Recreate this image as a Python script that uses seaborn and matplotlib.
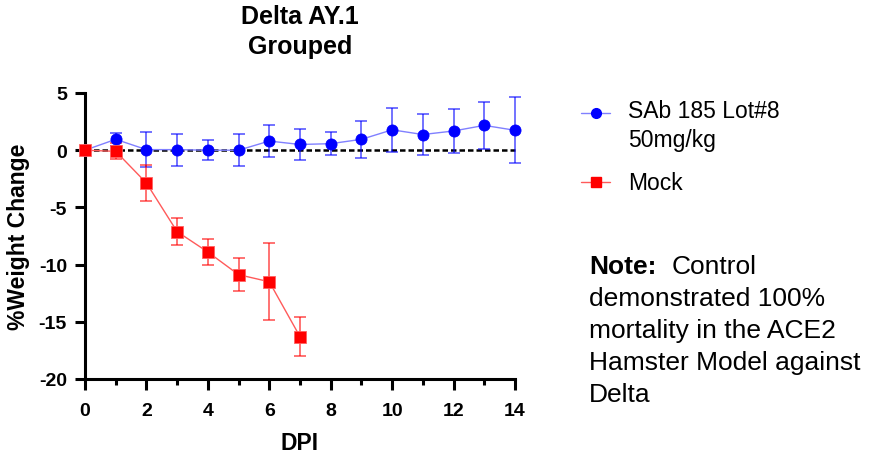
import numpy as np
import pandas as pd
import matplotlib
matplotlib.use("Agg")
import matplotlib.pyplot as plt
from matplotlib.lines import Line2D
import seaborn as sns

# ---- data ----
days_sab = [0, 1, 2, 3, 4, 5, 6, 7, 8, 9, 10, 11, 12, 13, 14]
sab_mean = [0.0, 0.95, 0.05, 0.05, 0.0, 0.0, 0.8, 0.5, 0.57, 0.95, 1.78, 1.37, 1.68, 2.17, 1.74]
sab_sd = [0.0, 0.55, 1.5, 1.4, 0.9, 1.38, 1.38, 1.37, 1.0, 1.63, 1.95, 1.82, 1.9, 2.07, 2.9]

days_mock = [0, 1, 2, 3, 4, 5, 6, 7]
mock_mean = [0.0, -0.1, -2.87, -7.12, -8.9, -10.88, -11.5, -16.3]
mock_sd = [0.0, 0.7, 1.6, 1.2, 1.1, 1.45, 3.35, 1.7]

series_names = ["SAb 185 Lot#8\n50mg/kg", "Mock"]
x_ticks = [0, 2, 4, 6, 8, 10, 12, 14]
y_ticks = [5, 0, -5, -10, -15, -20]

title = "Delta AY.1\nGrouped"
x_label = "DPI"
y_label = "%Weight Change"
note_bold = "Note:"
note_lines = ["Control", "demonstrated 100%", "mortality in the ACE2",
              "Hamster Model against", "Delta"]

df = pd.DataFrame({
    "DPI": days_sab + days_mock,
    "Weight": sab_mean + mock_mean,
    "SD": sab_sd + mock_sd,
    "Group": [series_names[0]] * len(days_sab) + [series_names[1]] * len(days_mock),
})

# ---- style ----
sns.set_style("ticks")
plt.rcParams["font.family"] = ["Liberation Sans", "DejaVu Sans"]
plt.rcParams["axes.unicode_minus"] = False
plt.rcParams["text.color"] = "black"
plt.rcParams["axes.labelcolor"] = "black"
plt.rcParams["xtick.color"] = "black"
plt.rcParams["ytick.color"] = "black"
plt.rcParams["axes.edgecolor"] = "black"

W, H = 871, 456
fig = plt.figure(figsize=(W / 100, H / 100), dpi=100)
ax = fig.add_axes([85 / W, 1 - 380 / H, (515 - 85) / W, (380 - 94) / H])

colors = {series_names[0]: "#0000FF", series_names[1]: "#FF0000"}
line_colors = {series_names[0]: "#8080FF", series_names[1]: "#FF5A5A"}
markers = {series_names[0]: "o", series_names[1]: "s"}

# zero reference line
ax.plot([0, 14], [0, 0], color="black", lw=1.8, linestyle=(0, (2.2, 1.2)),
        zorder=1.5, clip_on=False)

sns.lineplot(data=df, x="DPI", y="Weight", hue="Group", style="Group",
             palette=line_colors, markers=False, dashes=False, lw=1.0,
             legend=False, ax=ax, zorder=2)

for name in series_names:
    sub = df[df["Group"] == name]
    ax.errorbar(sub["DPI"], sub["Weight"], yerr=sub["SD"], fmt="none",
                ecolor=colors[name], alpha=0.7, elinewidth=1.1, capsize=4,
                capthick=1.1, zorder=2.5, clip_on=False)
    ax.plot(sub["DPI"], sub["Weight"], linestyle="none", marker=markers[name],
            color=colors[name], markersize=8.3 if name == "Mock" else 8,
            markeredgewidth=0.6,
            markeredgecolor="#FF6060" if name == "Mock" else colors[name],
            zorder=3, clip_on=False)

ax.set_xlim(0, 14)
ax.set_ylim(-20, 5)
ax.set_xticks(x_ticks)
ax.set_xticks(range(1, 14, 2), minor=True)
ax.set_yticks(y_ticks)
for s in ["top", "right"]:
    ax.spines[s].set_visible(False)
for s in ["left", "bottom"]:
    ax.spines[s].set_linewidth(2.2)
ax.tick_params(axis="x", which="major", length=8, width=2.2, pad=8.5,
               labelsize=14, color="black")
ax.tick_params(axis="y", which="major", length=7.5, width=2.2, pad=5.5,
               labelsize=14, color="black")
ax.tick_params(axis="x", which="minor", length=4.5, width=2.2, color="black")
for lab in ax.get_xticklabels() + ax.get_yticklabels():
    lab.set_fontweight("bold")

ax.set_xlabel(x_label, fontsize=16.5, fontweight="bold", labelpad=9)
ax.set_ylabel(y_label, fontsize=16.5, fontweight="bold", labelpad=6)
ax.set_title(title, fontsize=18, fontweight="bold", pad=29, linespacing=1.3)

# ---- manual legend ----
def fx(px):
    return px / W

def fy(py):
    return 1 - py / H

leg_items = [(series_names[0], 114), (series_names[1], 183)]
for name, yy in leg_items:
    fig.add_artist(Line2D([fx(581), fx(610)], [fy(yy), fy(yy)],
                          transform=fig.transFigure, color=line_colors[name], lw=1.0))
    fig.add_artist(Line2D([fx(595.5)], [fy(yy)], transform=fig.transFigure,
                          marker=markers[name], color=colors[name], markersize=7,
                          linestyle="none"))
fig.text(fx(628), fy(112), series_names[0].split("\n")[0], fontsize=16.5,
         va="center", ha="left")
fig.text(fx(628), fy(140), series_names[0].split("\n")[1], fontsize=16.5,
         va="center", ha="left")
fig.text(fx(628), fy(183), series_names[1], fontsize=16.5, va="center", ha="left")

# ---- note ----
baselines = [274, 306.5, 338.5, 370, 401.5]
fig.text(fx(589), fy(baselines[0]), note_bold, fontsize=19, fontweight="bold",
         va="baseline", ha="left")
fig.text(fx(672), fy(baselines[0]), note_lines[0], fontsize=19,
         va="baseline", ha="left")
for line, b in zip(note_lines[1:], baselines[1:]):
    fig.text(fx(589), fy(b), line, fontsize=19, va="baseline", ha="left")

fig.savefig("out.png", dpi=100)
